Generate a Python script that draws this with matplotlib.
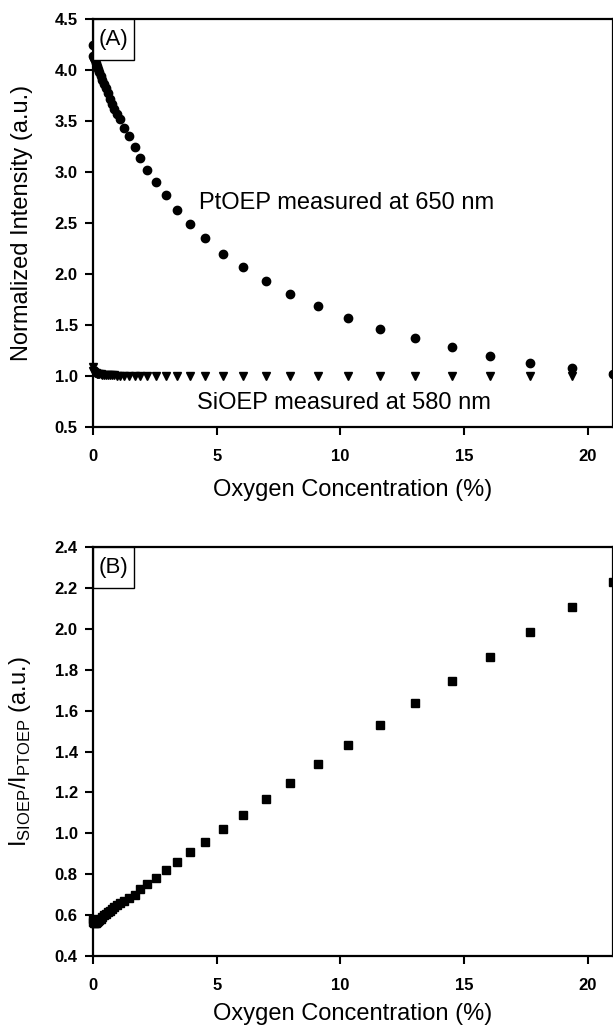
import matplotlib
matplotlib.use("Agg")
import matplotlib.pyplot as plt
from matplotlib.patches import Rectangle
import numpy as np

plt.rcParams["font.family"] = ["Liberation Sans", "DejaVu Sans"]
plt.rcParams["mathtext.fontset"] = "custom"
plt.rcParams["mathtext.rm"] = "Liberation Sans"

# oxygen concentration (%)
oxygen = [0, 0.02, 0.05, 0.08, 0.12, 0.16, 0.21, 0.26, 0.32, 0.38, 0.45, 0.52,
          0.60, 0.68, 0.77, 0.86, 0.97, 1.09, 1.26, 1.45, 1.68, 1.91, 2.20, 2.55,
          2.94, 3.40, 3.94, 4.54, 5.26, 6.06, 6.98, 7.97, 9.10, 10.31, 11.61,
          13.02, 14.50, 16.06, 17.67, 19.35, 21.0]

# normalized intensity, PtOEP at 650 nm
ptoep = [4.25, 4.14, 4.12, 4.10, 4.07, 4.04, 4.01, 3.98, 3.94, 3.90, 3.86, 3.82,
         3.77, 3.72, 3.67, 3.62, 3.57, 3.52, 3.43, 3.35, 3.25, 3.14, 3.02, 2.90,
         2.77, 2.63, 2.49, 2.35, 2.20, 2.07, 1.93, 1.80, 1.69, 1.57, 1.46,
         1.37, 1.28, 1.20, 1.13, 1.08, 1.02]

# normalized intensity, SiOEP at 580 nm
sioep = [1.09, 1.05, 1.04, 1.03, 1.03, 1.02, 1.02, 1.02, 1.02, 1.01, 1.01, 1.01,
         1.01, 1.01, 1.01, 1.01, 1.00, 1.00, 1.00, 1.00, 1.00, 1.00, 1.00, 1.00,
         1.00, 1.00, 1.00, 1.00, 1.00, 1.00, 1.00, 1.00, 1.00, 1.00, 1.00,
         1.00, 1.00, 1.00, 1.00, 1.00, 1.00]

# intensity ratio I_SiOEP / I_PtOEP
ratio = [0.58, 0.565, 0.56, 0.56, 0.56, 0.565, 0.57, 0.575, 0.58, 0.59, 0.60, 0.605,
         0.615, 0.62, 0.63, 0.64, 0.65, 0.66, 0.67, 0.685, 0.70, 0.726, 0.752, 0.783,
         0.819, 0.860, 0.909, 0.959, 1.022, 1.091, 1.166, 1.247, 1.338, 1.43, 1.53,
         1.637, 1.746, 1.864, 1.982, 2.105, 2.227]

x_ticks = [0, 5, 10, 15, 20]
yticks_a = [0.5, 1.0, 1.5, 2.0, 2.5, 3.0, 3.5, 4.0, 4.5]
yticks_b = [0.4, 0.6, 0.8, 1.0, 1.2, 1.4, 1.6, 1.8, 2.0, 2.2, 2.4]

W, H = 613, 1026
fig = plt.figure(figsize=(W / 100, H / 100), dpi=100)
ax_a = fig.add_axes([93 / W, 1 - 427 / H, 519.5 / W, 408 / H])
ax_b = fig.add_axes([93 / W, 1 - 956 / H, 519.5 / W, 409 / H])


def style_axes(ax, yticks, label, h_px, xlab_y):
    ax.set_xlim(0, 21)
    ax.set_xticks(x_ticks)
    ax.set_yticks(yticks)
    ax.set_ylim(yticks[0], yticks[-1])
    ax.set_yticklabels([f"{v:.1f}" for v in yticks])
    ax.tick_params(axis="x", direction="out", length=6, width=1.5, pad=10,
                   labelsize=12)
    ax.tick_params(axis="y", direction="out", length=6, width=1.5, pad=5,
                   labelsize=12)
    for t in ax.get_xticklabels() + ax.get_yticklabels():
        t.set_fontweight("bold")
    for s in ax.spines.values():
        s.set_linewidth(1.6)
    ax.set_xlabel("Oxygen Concentration (%)", fontsize=17)
    ax.xaxis.set_label_coords(0.5, xlab_y)
    ax.yaxis.set_label_coords(-60 / 519.5, 0.5)
    # panel label box
    ax.add_patch(Rectangle((0, 1 - 41 / h_px), 41 / 519.5, 41 / h_px,
                           transform=ax.transAxes, facecolor="white",
                           edgecolor="black", lw=1.0, zorder=5, clip_on=False))
    ax.text(21 / 519.5, 1 - 20.5 / h_px, label, transform=ax.transAxes,
            ha="center", va="center", fontsize=16, zorder=6)


style_axes(ax_a, yticks_a, "(A)", 408, -52 / 408)
ax_a.plot(oxygen, ptoep, "o", color="black", ms=6, clip_on=False, zorder=3)
ax_a.plot(oxygen, sioep, "v", color="black", ms=6, clip_on=False, zorder=3)
ax_a.set_ylabel("Normalized Intensity (a.u.)", fontsize=17)
ax_a.text(4.3, 2.70, "PtOEP measured at 650 nm", fontsize=17, va="center")
ax_a.text(4.2, 0.735, "SiOEP measured at 580 nm", fontsize=17, va="center")

style_axes(ax_b, yticks_b, "(B)", 409, -47 / 409)
ax_b.plot(oxygen, ratio, "s", color="black", ms=6, clip_on=False, zorder=3)
ax_b.set_ylabel(r"I$_{\mathregular{SIOEP}}$/I$_{\mathregular{PTOEP}}$ (a.u.)",
                fontsize=17)

fig.savefig("out.png", dpi=100)
